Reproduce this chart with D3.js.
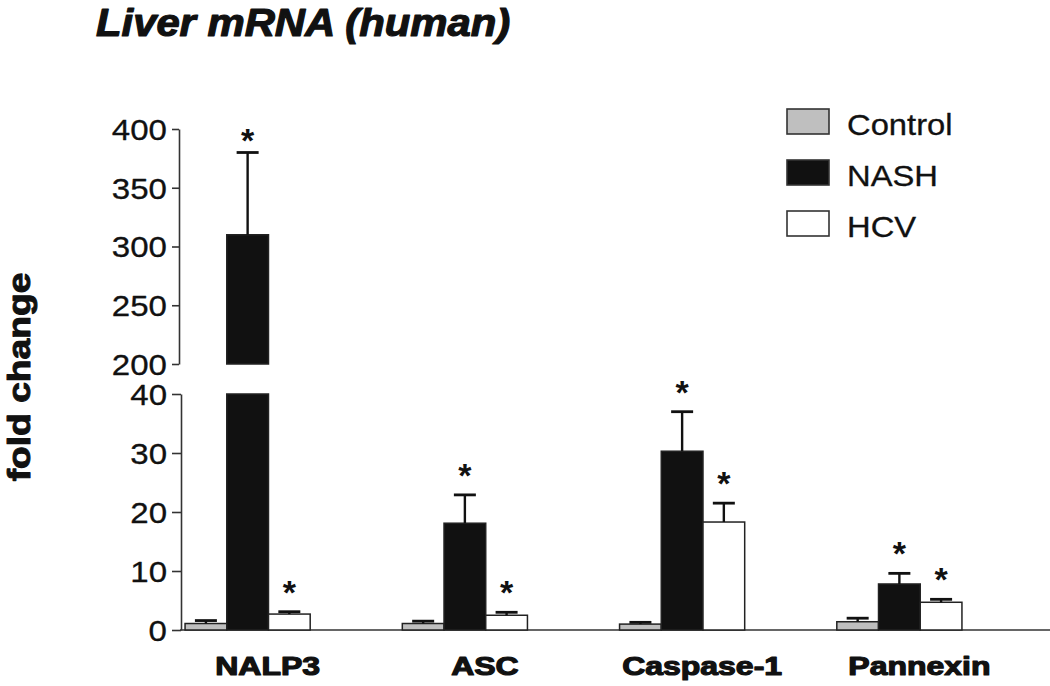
<!DOCTYPE html>
<html>
<head>
<meta charset="utf-8">
<script src="https://cdn.jsdelivr.net/npm/d3@7"></script>
<style>
  body { margin: 0; background: #fff; }
  svg { font-family: "Liberation Sans", Arial, Helvetica, sans-serif; }
</style>
</head>
<body>
<div id="chart"></div>
<script>

var categories = ['NALP3', 'ASC', 'Caspase-1', 'Pannexin'];
var seriesNames = ['Control', 'NASH', 'HCV'];
var controlMean = [1.1, 1.1, 1.0, 1.4];
var controlErr  = [0.5, 0.4, 0.3, 0.6];
var nashMean    = [310, 18.1, 30.3, 7.8];
var nashErr     = [70, 4.8, 6.7, 1.8];
var hcvMean     = [2.7, 2.5, 18.3, 4.7];
var hcvErr      = [0.4, 0.5, 3.2, 0.5];
var nashSig     = [true, true, true, true];
var hcvSig      = [true, true, true, true];
var upperTicks  = [200, 250, 300, 350, 400];
var lowerTicks  = [0, 10, 20, 30, 40];

var fills = {Control: '#bfbfbf', NASH: '#111', HCV: '#fff'};

var svg = d3.select('#chart')
  .append('svg')
  .attr('width', 1050)
  .attr('height', 686);

// broken y axis: two linear pieces
var yLow = d3.scaleLinear().domain([0, 40]).range([630, 394]);
var yHigh = d3.scaleLinear().domain([200, 400]).range([364, 129]);
function yPos(v){ return v <= 40 ? yLow(v) : yHigh(v); }

var x0 = d3.scaleBand().domain(categories).range([139, 1008])
  .paddingInner(0.424).paddingOuter(0.212);
var x1 = d3.scaleBand().domain(seriesNames).range([0, x0.bandwidth()]);

// stretch text horizontally, the source figure is a bit wide
function stretch(sel, sx){
  sel.each(function(){
    var t = d3.select(this);
    var xv = +t.attr('x') || 0;
    t.attr('x', xv / sx).attr('transform', 'scale(' + sx + ',1)');
  });
}

// heavier strokes for the bold texts
function heavy(sel, w){
  sel.attr('stroke', '#111').attr('stroke-width', w).attr('stroke-linejoin', 'round');
}

var rows = [];
categories.forEach(function(c, i){
  rows.push({cat: c, s: 'Control', v: controlMean[i], e: controlErr[i], sig: false});
  rows.push({cat: c, s: 'NASH', v: nashMean[i], e: nashErr[i], sig: nashSig[i]});
  rows.push({cat: c, s: 'HCV', v: hcvMean[i], e: hcvErr[i], sig: hcvSig[i]});
});

// axes
var upAxis = svg.append('g')
  .attr('transform', 'translate(179,0)')
  .call(d3.axisLeft(yHigh).tickValues(upperTicks).tickSize(7).tickSizeOuter(0));
var lowAxis = svg.append('g')
  .attr('transform', 'translate(181,0)')
  .call(d3.axisLeft(yLow).tickValues(lowerTicks).tickSize(9).tickSizeOuter(0));

[upAxis, lowAxis].forEach(function(a){
  a.selectAll('path, line').attr('stroke', '#333').attr('stroke-width', 1.6);
  a.selectAll('text')
    .attr('font-size', 29)
    .attr('fill', '#111')
    .attr('font-family', '"Liberation Sans", Arial, sans-serif')
    .attr('dy', '0.36em');
});
upAxis.selectAll('text').attr('x', -12);
lowAxis.selectAll('text').attr('x', -14);
stretch(upAxis.selectAll('text'), 1.14);
stretch(lowAxis.selectAll('text'), 1.14);
heavy(upAxis.selectAll('text'), 0.3);
heavy(lowAxis.selectAll('text'), 0.3);

// baseline
svg.append('line')
  .attr('x1', 180).attr('x2', 1050)
  .attr('y1', yLow(0)).attr('y2', yLow(0))
  .attr('stroke', '#333').attr('stroke-width', 1.6);

var bars = svg.selectAll('g.bar')
  .data(rows)
  .enter()
    .append('g')
    .classed('bar', true)
    .attr('transform', function(d){ return 'translate(' + (x0(d.cat) + x1(d.s)) + ',0)'; });

var bw = x1.bandwidth();

// lower piece
bars.append('rect')
  .attr('x', 0)
  .attr('width', bw)
  .attr('y', function(d){ return yLow(Math.min(d.v, 40)); })
  .attr('height', function(d){ return yLow(0) - yLow(Math.min(d.v, 40)); })
  .attr('fill', function(d){ return fills[d.s]; })
  .attr('stroke', '#222')
  .attr('stroke-width', 1.5);

// upper piece when bar goes past the break
bars.filter(function(d){ return d.v > 200; })
  .append('rect')
  .attr('x', 0)
  .attr('width', bw)
  .attr('y', function(d){ return yHigh(d.v); })
  .attr('height', function(d){ return yHigh(200) - yHigh(d.v); })
  .attr('fill', function(d){ return fills[d.s]; })
  .attr('stroke', '#222')
  .attr('stroke-width', 1.5);

// error bars, upper half only
bars.append('line')
  .attr('x1', bw / 2).attr('x2', bw / 2)
  .attr('y1', function(d){ return yPos(d.v); })
  .attr('y2', function(d){ return yPos(d.v + d.e); })
  .attr('stroke', '#111').attr('stroke-width', 2.4);
bars.append('line')
  .attr('x1', bw / 2 - 11).attr('x2', bw / 2 + 11)
  .attr('y1', function(d){ return yPos(d.v + d.e); })
  .attr('y2', function(d){ return yPos(d.v + d.e); })
  .attr('stroke', '#111').attr('stroke-width', 2.8);

// significance stars
bars.filter(function(d){ return d.sig; })
  .append('text')
  .attr('x', bw / 2)
  .attr('y', function(d){ return yPos(d.v + d.e) - (d.v > 200 ? 1 : 8); })
  .attr('text-anchor', 'middle')
  .attr('font-size', 34)
  .attr('font-weight', 'bold')
  .attr('fill', '#111')
  .text('*');

// category labels
var catLab = svg.selectAll('g.cat')
  .data(categories)
  .enter()
    .append('g')
    .classed('cat', true)
    .attr('transform', function(d){ return 'translate(' + (x0(d) + x0.bandwidth() / 2 + 20) + ',675)'; });
catLab.append('text')
  .attr('text-anchor', 'middle')
  .attr('font-size', 26)
  .attr('font-weight', 'bold')
  .attr('fill', '#111')
  .text(function(d){ return d; });
stretch(catLab.selectAll('text'), 1.23);
heavy(catLab.selectAll('text'), 1.2);

// y title
var yt = svg.append('g').attr('transform', 'translate(30,377) rotate(-90)');
yt.append('text')
  .attr('text-anchor', 'middle')
  .attr('font-size', 31)
  .attr('font-weight', 'bold')
  .attr('fill', '#111')
  .text('fold change');
stretch(yt.selectAll('text'), 1.2);
heavy(yt.selectAll('text'), 1.0);

// title
var tt = svg.append('g').attr('transform', 'translate(96,36)');
tt.append('text')
  .attr('font-size', 38)
  .attr('font-weight', 'bold')
  .attr('font-style', 'italic')
  .attr('fill', '#111')
  .text('Liver mRNA (human)');
stretch(tt.selectAll('text'), 1.1);
heavy(tt.selectAll('text'), 1.2);

// legend
var legend = svg.selectAll('g.legend')
  .data(seriesNames)
  .enter()
    .append('g')
    .classed('legend', true)
    .attr('transform', function(d, i){ return 'translate(787,' + (109 + i * 51) + ')'; });
legend.append('rect')
  .attr('width', 42).attr('height', 25)
  .attr('fill', function(d){ return fills[d]; })
  .attr('stroke', '#333').attr('stroke-width', 1.6);
legend.append('text')
  .attr('x', 60).attr('y', 26)
  .attr('font-size', 29)
  .attr('fill', '#111')
  .text(function(d){ return d; });
stretch(legend.selectAll('text'), 1.13);
heavy(legend.selectAll('text'), 0.3);

</script>
</body>
</html>
